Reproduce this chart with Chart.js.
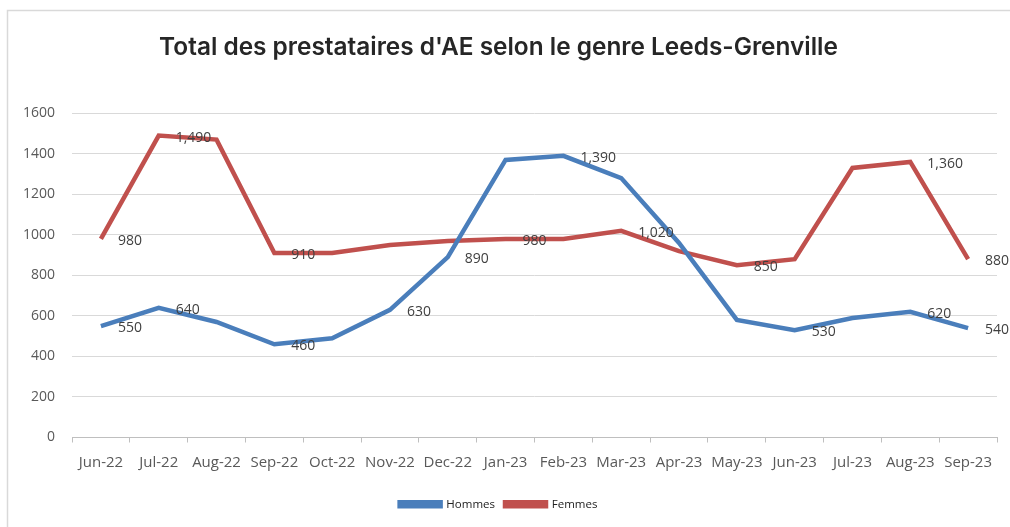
<!DOCTYPE html>
<html>
<head>
<meta charset="utf-8">
<script src="https://cdn.jsdelivr.net/npm/chart.js@4/dist/chart.umd.min.js"></script>
<style>
	body { margin: 0; background: #fff; }
	canvas { display: block; }
</style>
</head>
<body>
<canvas id="chart" width="1010" height="527"></canvas>
<script>
const months = ['Jun-22', 'Jul-22', 'Aug-22', 'Sep-22', 'Oct-22', 'Nov-22', 'Dec-22', 'Jan-23',
	'Feb-23', 'Mar-23', 'Apr-23', 'May-23', 'Jun-23', 'Jul-23', 'Aug-23', 'Sep-23'];
const hommes = [550, 640, 570, 460, 490, 630, 890, 1370, 1390, 1280, 960, 580, 530, 590, 620, 540];
const femmes = [980, 1490, 1470, 910, 910, 950, 970, 980, 980, 1020, 920, 850, 880, 1330, 1360, 880];
// which points carry a value label in the original
const hommesLabelled = [0, 1, 3, 5, 6, 8, 12, 14, 15];
const femmesLabelled = [0, 1, 3, 7, 9, 11, 14, 15];
const yTicks = [0, 200, 400, 600, 800, 1000, 1200, 1400, 1600];

const blue = '#4a7ebb';
const red = '#c0504d';
const grey = '#595959';
const labelFont = '"Open Sans", sans-serif';

const ctx = document.getElementById("chart").getContext("2d");

const valueLabels = {
	id: 'valueLabels',
	afterDatasetsDraw: (chart) => {
		const c = chart.ctx;
		const lists = [hommesLabelled, femmesLabelled];
		c.save();
		c.font = '14px ' + labelFont;
		c.fillStyle = '#404040';
		c.textAlign = 'left';
		c.textBaseline = 'middle';
		chart.data.datasets.forEach((ds, d) => {
			const meta = chart.getDatasetMeta(d);
			lists[d].forEach(i => {
				const pt = meta.data[i];
				c.fillText(ds.data[i].toLocaleString('en-US'), pt.x + 17, pt.y + 2);
			});
		});
		c.restore();
	}
};

const frame = {
	id: 'frame',
	beforeDraw: (chart) => {
		const c = chart.ctx;
		c.save();
		c.fillStyle = '#fff';
		c.fillRect(0, 0, chart.width, chart.height);
		c.strokeStyle = '#d9d9d9';
		c.lineWidth = 1.5;
		c.strokeRect(7.5, 10.5, chart.width, chart.height);
		c.restore();
	}
};

const chart = new Chart(ctx, {
	type: "line",
	data: {
		labels: months,
		datasets: [
			{
				label: 'Hommes',
				data: hommes,
				borderColor: blue,
				backgroundColor: blue,
				borderWidth: 4.5,
				pointRadius: 0,
				tension: 0,
			},
			{
				label: 'Femmes',
				data: femmes,
				borderColor: red,
				backgroundColor: red,
				borderWidth: 4.5,
				pointRadius: 0,
				tension: 0,
			}
		],
	},
	options: {
		responsive: false,
		animation: false,
		layout: {
			padding: {left: 0, right: 13, top: 0, bottom: 7}
		},
		scales: {
			y: {
				min: 0,
				max: 1600,
				afterBuildTicks: (axis) => { axis.ticks = yTicks.map(v => ({value: v})); },
				afterFit: (axis) => { axis.width = 72; },
				border: {display: false},
				grid: {
					color: '#d9d9d9',
					drawTicks: false,
				},
				ticks: {
					color: grey,
					padding: 17,
					font: {family: labelFont, size: 14},
					callback: (v) => String(v),
				}
			},
			x: {
				offset: true,
				border: {color: '#bfbfbf'},
				afterFit: (axis) => { axis.height += 6; },
				grid: {
					offset: true,
					drawOnChartArea: false,
					tickLength: 5,
					color: '#bfbfbf',
				},
				ticks: {
					color: grey,
					padding: 11,
					maxRotation: 0,
					autoSkip: false,
					font: {family: labelFont, size: 15},
				}
			}
		},
		plugins: {
			title: {
				display: true,
				text: "Total des prestataires d'AE selon le genre Leeds-Grenville",
				color: '#262626',
				font: {family: 'Inter, sans-serif', size: 24.4, weight: '600'},
				padding: {top: 33, bottom: 51},
			},
			legend: {
				position: 'bottom',
				labels: {
					boxWidth: 41,
					boxHeight: 4,
					padding: 10,
					color: '#222',
					font: {family: labelFont, size: 11.5},
				}
			},
			tooltip: {enabled: false},
		},
	},
	plugins: [frame, valueLabels]
});
</script>
</body>
</html>
